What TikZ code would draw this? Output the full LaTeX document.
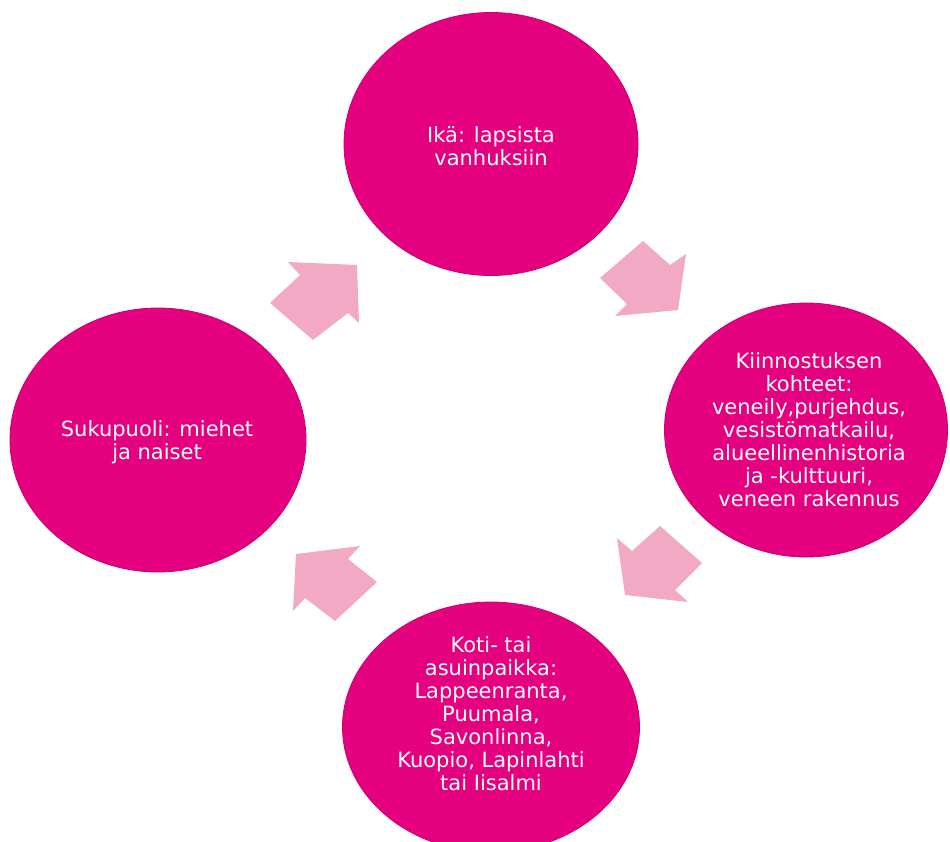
\documentclass[tikz,border=0pt]{standalone}
\usepackage{fontspec}
\setmainfont{DejaVu Sans}
\usetikzlibrary{shapes.geometric}
\definecolor{magentafill}{RGB}{228,0,126}
\definecolor{magentaedge}{RGB}{200,0,110}
\definecolor{arrowpink}{RGB}{242,169,196}
\tikzset{
  blob/.style={ellipse, fill=magentafill, draw=magentaedge, line width=0.8pt, inner sep=0pt},
  blobtext/.style={text=white, align=center, font=\fontsize{21}{23}\selectfont, inner sep=0pt},
  blockarrow/.style={fill=arrowpink}
}
\begin{document}
\begin{tikzpicture}[x=1pt,y=-1pt]
\useasboundingbox (0,0) rectangle (950,841);
\begin{scope}
\clip (0,0) rectangle (950,841);
% circles
\node[blob, minimum width=294pt, minimum height=263pt] (top) at (491,144) {};
\node[blob, minimum width=283pt, minimum height=254pt] (right) at (806,430) {};
\node[blob, minimum width=296pt, minimum height=264pt] (left) at (158,440) {};
\node[blob, minimum width=297pt, minimum height=250pt] (bottom) at (491,727) {};
\end{scope}
% texts
\node[blobtext] (toptext) at (491,146) {Ikä: lapsista\\vanhuksiin};
\node[blobtext] (lefttext) at (157,442) {Sukupuoli: miehet\\ja naiset};
\node[blobtext] (righttext) at (809,430) {Kiinnostuksen\\kohteet:\\veneily,purjehdus,\\vesistömatkailu,\\alueellinenhistoria\\ja -kulttuuri,\\veneen rakennus};
\node[blobtext] (bottomtext) at (491,714) {Koti- tai\\asuinpaikka:\\Lappeenranta,\\Puumala,\\Savonlinna,\\Kuopio, Lapinlahti\\tai Iisalmi};
% block arrows
\fill[blockarrow] (600,278) -- (643,241) -- (670,265) -- (686,254) -- (678,310) -- (615,316) -- (627,304) -- cycle;
\fill[blockarrow] (617,538) -- (632,551) -- (660,526) -- (702,563) -- (675,590) -- (688,602) -- (625,595) -- cycle;
\fill[blockarrow] (296,554) -- (360,546) -- (348,559) -- (377,582) -- (335,621) -- (305,598) -- (293,611) -- cycle;
\fill[blockarrow] (270,303) -- (300,275) -- (288,262) -- (357,265) -- (359,323) -- (348,313) -- (313,340) -- cycle;
\end{tikzpicture}
\end{document}
